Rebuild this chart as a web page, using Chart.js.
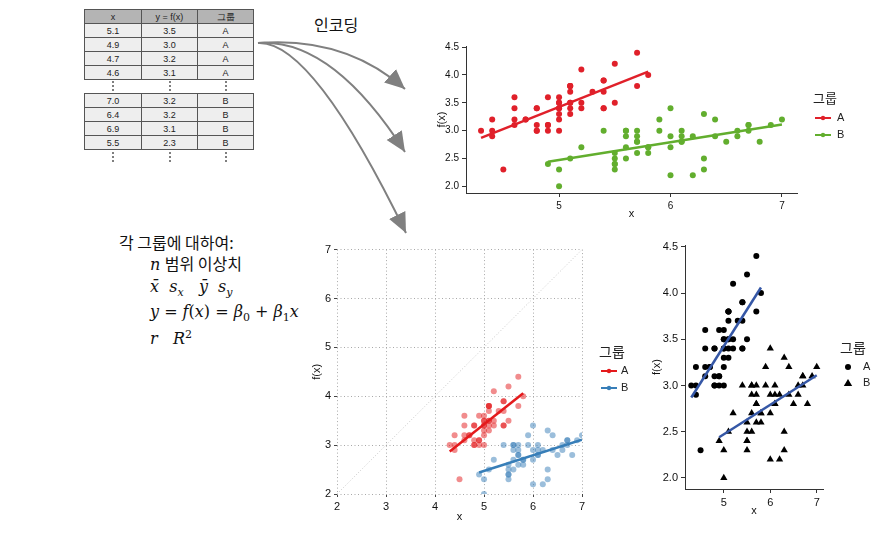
<!DOCTYPE html>
<html>
<head>
<meta charset="utf-8">
<script src="https://cdn.jsdelivr.net/npm/chart.js@4.4.1/dist/chart.umd.min.js"></script>
<style>
  body { margin: 0; background: #fff; width: 892px; height: 541px; overflow: hidden; position: relative;
         font-family: "Liberation Sans", Arial, sans-serif; color: #111; }
  .abs { position: absolute; }
  table.t { position: absolute; left: 84px; border-collapse: collapse; table-layout: fixed;
            font: 9px "Liberation Sans", Arial, sans-serif; color: #222; }
  table.t td, table.t th { border: 1px solid #555; height: 13px; padding: 0; text-align: center;
            background: #eeeeee; font-weight: normal; line-height: 12px; }
  table.t th { background: #b4b4b4; }
  .dots { position: absolute; left: 84px; width: 169px; height: 14px; }
  .dots i { position: absolute; width: 1.6px; height: 1.6px; background: #555; border-radius: 1px; }
  .kr { font-family: "Noto Sans CJK KR", sans-serif; }
  .m { font-family: "DejaVu Serif", "Liberation Serif", serif; font-style: italic; }
  .m sub, .m sup { font-size: 11px; }
  .n { font-style: normal; }
  canvas { position: absolute; }
</style>
</head>
<body>

<table class="t" id="tabA" style="top:9px"></table>
<div class="dots" id="dotsA" style="top:80px"></div>
<table class="t" id="tabB" style="top:93px"></table>
<div class="dots" id="dotsB" style="top:151px"></div>

<div class="abs kr" style="left:314px; top:12px; font-size:16px;">인코딩</div>

<svg class="abs" style="left:0; top:0" width="892" height="541">
  <defs>
    <marker id="head" markerUnits="userSpaceOnUse" markerWidth="22" markerHeight="20"
            refX="20" refY="9" orient="auto">
      <path d="M0,0 L20,9 L0,18 Z" fill="#808080"/>
    </marker>
  </defs>
  <g fill="none" stroke="#808080" stroke-width="2">
    <path d="M258,43 Q345,36 405,89" marker-end="url(#head)"/>
    <path d="M258,43 Q332,38 405,152" marker-end="url(#head)"/>
    <path d="M258,43 Q312,40 406,233" marker-end="url(#head)"/>
  </g>
</svg>

<div class="abs kr" style="left:119px; top:230px; font-size:16px;">각 그룹에 대하여:</div>
<div class="abs" style="left:150px; top:251px; font-size:16px;"><span class="m">n</span> <span class="kr">범위 이상치</span></div>
<div class="abs m" style="left:150px; top:277px; font-size:16px;">x̄&nbsp;&nbsp;s<sub>x</sub>&nbsp;&nbsp;&nbsp;ȳ&nbsp;&nbsp;s<sub>y</sub></div>
<div class="abs m" style="left:150px; top:302px; font-size:16px;">y <span class="n">=</span> f<span class="n">(</span>x<span class="n">) = </span>β<sub class="n">0</sub> <span class="n">+</span> β<sub class="n">1</sub>x</div>
<div class="abs m" style="left:150px; top:328px; font-size:16px;">r&nbsp;&nbsp;&nbsp;R<sup class="n">2</sup></div>

<canvas id="c1" width="460" height="190" style="left:420px; top:35px"></canvas>
<canvas id="c2" width="330" height="290" style="left:310px; top:240px"></canvas>
<canvas id="c3" width="245" height="285" style="left:645px; top:235px"></canvas>

<script>
// table excerpt
const tableCols = ['x', 'y = f(x)', '그룹'];
const tableRowsA = [['5.1', '3.5', 'A'], ['4.9', '3.0', 'A'], ['4.7', '3.2', 'A'], ['4.6', '3.1', 'A']];
const tableRowsB = [['7.0', '3.2', 'B'], ['6.4', '3.2', 'B'], ['6.9', '3.1', 'B'], ['5.5', '2.3', 'B']];

// group A points
const aX = [5.1, 4.9, 4.7, 4.6, 5.0, 5.4, 4.6, 5.0, 4.4, 4.9, 5.4, 4.8, 4.8, 4.3, 5.8, 5.7, 5.4, 5.1, 5.7, 5.1,
            5.4, 5.1, 4.6, 5.1, 4.8, 5.0, 5.0, 5.2, 5.2, 4.7, 4.8, 5.4, 5.2, 5.5, 4.9, 5.0, 5.5, 4.9, 4.4, 5.1,
            5.0, 4.5, 4.4, 5.0, 5.1, 4.8, 5.1, 4.6, 5.3, 5.0];
const aY = [3.5, 3.0, 3.2, 3.1, 3.6, 3.9, 3.4, 3.4, 2.9, 3.1, 3.7, 3.4, 3.0, 3.0, 4.0, 4.4, 3.9, 3.5, 3.8, 3.8,
            3.4, 3.7, 3.6, 3.3, 3.4, 3.0, 3.4, 3.5, 3.4, 3.2, 3.1, 3.4, 4.1, 4.2, 3.1, 3.2, 3.5, 3.6, 3.0, 3.4,
            3.5, 2.3, 3.2, 3.5, 3.8, 3.0, 3.8, 3.2, 3.7, 3.3];
// group B points
const bX = [7.0, 6.4, 6.9, 5.5, 6.5, 5.7, 6.3, 4.9, 6.6, 5.2, 5.0, 5.9, 6.0, 6.1, 5.6, 6.7, 5.6, 5.8, 6.2, 5.6,
            5.9, 6.1, 6.3, 6.1, 6.4, 6.6, 6.8, 6.7, 6.0, 5.7, 5.5, 5.5, 5.8, 6.0, 5.4, 6.0, 6.7, 6.3, 5.6, 5.5,
            5.5, 6.1, 5.8, 5.0, 5.6, 5.7, 5.7, 6.2, 5.1, 5.7];
const bY = [3.2, 3.2, 3.1, 2.3, 2.8, 2.8, 3.3, 2.4, 2.9, 2.7, 2.0, 3.0, 2.2, 2.9, 2.9, 3.1, 3.0, 2.7, 2.2, 2.5,
            3.2, 2.8, 2.5, 2.8, 2.9, 3.0, 2.8, 3.0, 2.9, 2.6, 2.4, 2.4, 2.7, 2.7, 3.0, 3.4, 3.1, 2.3, 3.0, 2.5,
            2.6, 3.0, 2.6, 2.3, 2.7, 3.0, 2.9, 2.9, 2.5, 2.8];

// fitted lines (end points)
const fitAX = [4.3, 5.8], fitAY = [2.87, 4.06];
const fitBX = [4.9, 7.0], fitBY = [2.44, 3.11];
const diagX = [2, 7], diagY = [2, 7];

const ticksTopX = [5, 6, 7];
const ticksTopY = [2.0, 2.5, 3.0, 3.5, 4.0, 4.5];
const ticksMid  = [2, 3, 4, 5, 6, 7];
const groups    = ['A', 'B'];
const keyTitle  = '그룹';

function fillTable(id, rows) {
  const t = document.getElementById(id);
  let h = '<colgroup><col style="width:57px"><col style="width:56px"><col style="width:56px"></colgroup>';
  if (id === 'tabA') h += '<tr>' + tableCols.map(c => `<th>${c}</th>`).join('') + '</tr>';
  rows.forEach(r => { h += '<tr>' + r.map(c => `<td>${c}</td>`).join('') + '</tr>'; });
  t.innerHTML = h;
}
fillTable('tabA', tableRowsA);
fillTable('tabB', tableRowsB);

// vertical ellipsis under each column
['dotsA', 'dotsB'].forEach(id => {
  const d = document.getElementById(id);
  let h = '';
  [28, 85, 141].forEach(cx => [1, 5, 9].forEach(cy => { h += `<i style="left:${cx}px; top:${cy}px"></i>`; }));
  d.innerHTML = h;
});

const pts = (xs, ys) => xs.map((x, i) => ({ x, y: ys[i] }));

const FONT = '"Liberation Sans", Arial, sans-serif';
Chart.defaults.font.family = FONT;
Chart.defaults.color = '#1a1a1a';

// ggplot-style key drawn onto the canvas
const keyPlugin = {
  id: 'key',
  afterDraw(chart, args, o) {
    if (!o.items) return;
    const ctx = chart.ctx;
    ctx.save();
    ctx.textBaseline = 'middle';
    ctx.fillStyle = '#222';
    ctx.font = o.titleSize + 'px "Noto Sans CJK KR", sans-serif';
    ctx.fillText(keyTitle, o.x, o.y);
    o.items.forEach((it, i) => {
      const y = o.y + o.first + i * o.step;
      const cx = o.x + o.mark;
      ctx.fillStyle = it.color;
      ctx.strokeStyle = it.color;
      if (it.style === 'line') {
        ctx.lineWidth = 2;
        ctx.beginPath(); ctx.moveTo(cx - 8, y); ctx.lineTo(cx + 8, y); ctx.stroke();
        ctx.beginPath(); ctx.arc(cx, y, 2.2, 0, Math.PI * 2); ctx.fill();
      } else if (it.style === 'circle') {
        ctx.beginPath(); ctx.arc(cx, y, 3, 0, Math.PI * 2); ctx.fill();
      } else {
        ctx.beginPath(); ctx.moveTo(cx, y - 4); ctx.lineTo(cx + 4.2, y + 3); ctx.lineTo(cx - 4.2, y + 3); ctx.closePath(); ctx.fill();
      }
      ctx.fillStyle = '#222';
      ctx.font = '11px ' + FONT;
      ctx.fillText(groups[i], o.x + o.text, y);
    });
    ctx.restore();
  }
};
Chart.register(keyPlugin);

function axis(opts) {
  const s = {
    type: 'linear',
    min: opts.min, max: opts.max,
    afterBuildTicks: sc => { sc.ticks = opts.ticks.map(v => ({ value: v })); },
    afterFit: sc => { if (opts.size.w) sc.width = opts.size.w; else sc.height = opts.size.h; },
    ticks: { font: { size: opts.tickSize || 10 }, color: '#111', padding: 3,
             autoSkip: false, maxRotation: 0, callback: opts.fmt || (v => String(v)) },
    title: { display: true, text: opts.title, font: { size: 11 }, color: '#111', padding: opts.titlePad },
  };
  if (opts.dotted) {
    s.grid = { color: '#a8a8a8', lineWidth: 1, tickLength: 3, tickColor: '#444', tickBorderDash: [] };
    s.border = { display: false, dash: [1, 2.5] };
  } else {
    s.grid = { drawOnChartArea: false, tickLength: 4, color: '#333', lineWidth: 1 };
    s.border = { display: true, color: '#333', width: 1 };
  }
  return s;
}

function baseOptions(pad, xs, ys, key) {
  return {
    responsive: false, animation: false,
    layout: { padding: pad },
    plugins: { legend: { display: false }, tooltip: { enabled: false }, key },
    scales: { x: xs, y: ys }
  };
}

const lineSet = (xs, ys, color, w, dash) => ({
  type: 'line', data: pts(xs, ys), borderColor: color, borderWidth: w, borderDash: dash || [],
  pointRadius: 0, showLine: true, fill: false, order: 0
});
const dotSet = (xs, ys, color, r, style) => ({
  type: 'scatter', data: pts(xs, ys), backgroundColor: color, borderWidth: 0,
  pointRadius: r, pointStyle: style || 'circle', order: 1
});

// 1: colour encoding
new Chart(document.getElementById('c1'), {
  type: 'scatter',
  data: { datasets: [
    dotSet(aX, aY, '#E0202A', 3),
    dotSet(bX, bY, '#62AE2E', 3),
    lineSet(fitAX, fitAY, '#E0202A', 2.5),
    lineSet(fitBX, fitBY, '#62AE2E', 2.5)
  ] },
  options: baseOptions({ top: 11, right: 83, left: 0, bottom: 0 },
    axis({ min: 4.165, max: 7.135, ticks: ticksTopX, size: { h: 32 }, title: 'x', titlePad: { top: 0, bottom: 4 } }),
    axis({ min: 1.88, max: 4.52, ticks: ticksTopY, size: { w: 46 }, title: 'f(x)', titlePad: { top: 15, bottom: 0 },
           fmt: v => v.toFixed(1), tickSize: 10 }),
    { x: 393, y: 63, first: 20, step: 17, mark: 10, text: 24, titleSize: 13,
      items: [{ color: '#E0202A', style: 'line' }, { color: '#62AE2E', style: 'line' }] })
});

// 2: equal scale, transparent points
new Chart(document.getElementById('c2'), {
  type: 'scatter',
  data: { datasets: [
    lineSet(diagX, diagY, '#c8c8c8', 1, [1, 2]),
    dotSet(aX, aY, 'rgba(228,26,28,0.5)', 3),
    dotSet(bX, bY, 'rgba(55,126,184,0.5)', 3),
    lineSet(fitAX, fitAY, '#E41A1C', 2.5),
    lineSet(fitBX, fitBY, '#377EB8', 2.5)
  ] },
  options: baseOptions({ top: 9, right: 58, left: 0, bottom: 0 },
    axis({ min: 2, max: 7, ticks: ticksMid, size: { h: 36 }, title: 'x', titlePad: { top: 0, bottom: 6 }, dotted: true, tickSize: 11 }),
    axis({ min: 2, max: 7, ticks: ticksMid, size: { w: 27 }, title: 'f(x)', titlePad: { top: 0, bottom: 0 }, dotted: true, tickSize: 11 }),
    { x: 289, y: 112, first: 19, step: 17, mark: 10, text: 22, titleSize: 14,
      items: [{ color: '#E41A1C', style: 'line' }, { color: '#377EB8', style: 'line' }] })
});

// 3: shape encoding
new Chart(document.getElementById('c3'), {
  type: 'scatter',
  data: { datasets: [
    dotSet(aX, aY, '#000', 3),
    dotSet(bX, bY, '#000', 4.2, 'triangle'),
    lineSet(fitAX, fitAY, '#3557A6', 2.5),
    lineSet(fitBX, fitBY, '#3557A6', 2.5)
  ] },
  options: baseOptions({ top: 10, right: 67, left: 0, bottom: 0 },
    axis({ min: 4.165, max: 7.135, ticks: ticksTopX, size: { h: 31 }, title: 'x', titlePad: { top: 0, bottom: 2 }, tickSize: 11 }),
    axis({ min: 1.88, max: 4.52, ticks: ticksTopY, size: { w: 40 }, title: 'f(x)', titlePad: { top: 5, bottom: 0 },
           fmt: v => v.toFixed(1), tickSize: 11 }),
    { x: 195, y: 113, first: 19, step: 16, mark: 8, text: 23, titleSize: 14,
      items: [{ color: '#000', style: 'circle' }, { color: '#000', style: 'triangle' }] })
});
</script>
</body>
</html>
